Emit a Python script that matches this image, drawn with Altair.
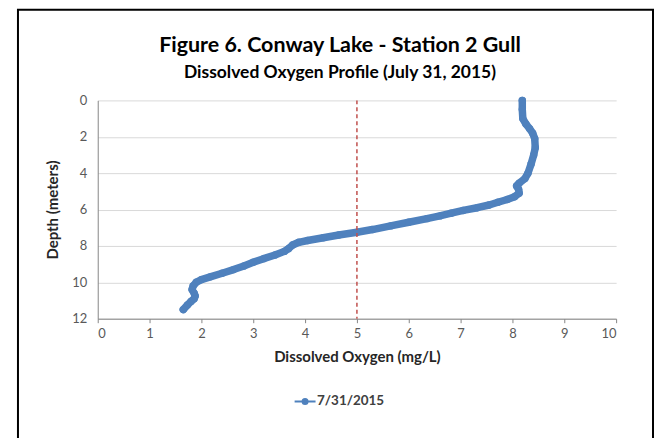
import altair as alt
import pandas as pd

# Profile readings (depth in meters, dissolved oxygen in mg/L)
depth = [0.0, 0.5, 1.0, 1.3, 1.55, 1.8, 2.1, 2.6, 3.0, 3.5, 4.0, 4.3, 4.55, 4.7,
         4.9, 5.1, 5.3, 5.45, 5.6, 5.75, 5.9, 6.05, 6.2, 6.35, 6.5, 6.7, 6.9,
         7.1, 7.25, 7.4, 7.55, 7.7, 7.8, 7.95, 8.15, 8.3, 8.5, 8.7, 8.9, 9.1,
         9.3, 9.5, 9.7, 9.85, 10.0, 10.2, 10.4, 10.6, 10.75, 10.9, 11.05,
         11.25, 11.5]
dissolved_oxygen = [8.19, 8.19, 8.20, 8.26, 8.33, 8.39, 8.43, 8.44, 8.41, 8.36,
                    8.30, 8.24, 8.13, 8.08, 8.12, 8.13, 8.04, 7.90, 7.72, 7.55,
                    7.32, 7.05, 6.82, 6.60, 6.35, 6.00, 5.65, 5.30, 5.00, 4.65,
                    4.35, 4.05, 3.88, 3.76, 3.68, 3.60, 3.42, 3.20, 3.00, 2.82,
                    2.62, 2.40, 2.17, 2.00, 1.90, 1.84, 1.82, 1.86, 1.88, 1.86,
                    1.80, 1.73, 1.65]
series_name = "7/31/2015"
threshold = [5]
title_text = "Figure 6. Conway Lake - Station 2 Gull"
subtitle_text = "Dissolved Oxygen Profile (July 31, 2015)"

x_ticks = list(range(0, 11))
y_ticks = [0, 2, 4, 6, 8, 10, 12]

df = pd.DataFrame({"depth": depth, "do": dissolved_oxygen,
                   "series": [series_name] * len(depth)})
df_thr = pd.DataFrame({"do": threshold})
df_one = pd.DataFrame({"a": [0]})

BLUE = "#4F81BD"
FONT = "Lato"

x_enc = alt.X("do:Q", scale=alt.Scale(domain=[0, 10], nice=False),
              axis=alt.Axis(values=x_ticks, title="Dissolved Oxygen (mg/L)",
                            grid=False, tickSize=4, tickColor="#868686",
                            domainColor="#868686", labelColor="#595959",
                            labelFontSize=13, titleFontSize=15,
                            titleFontWeight="bold", titleColor="#262626",
                            labelPadding=5, titlePadding=9))
y_enc = alt.Y("depth:Q", scale=alt.Scale(domain=[0, 12], reverse=True, nice=False),
              axis=alt.Axis(values=y_ticks, title="Depth (meters)", grid=True,
                            gridColor="#D9D9D9", ticks=False,
                            domainColor="#868686", labelColor="#595959",
                            labelFontSize=13, titleFontSize=15,
                            titleFontWeight="bold", titleColor="#262626",
                            labelPadding=11, titlePadding=11))

legend_symbol = "M-1.5,0H1.5M-0.36,0A0.36,0.36,0,1,1,0.36,0A0.36,0.36,0,1,1,-0.36,0Z"

line = alt.Chart(df).mark_line(
    strokeWidth=7.5, strokeCap="round", strokeJoin="round",
    point=alt.OverlayMarkDef(filled=True, size=55)
).encode(
    x=x_enc, y=y_enc,
    order=alt.Order("depth:Q"),
    color=alt.Color("series:N", scale=alt.Scale(range=[BLUE]),
                    legend=alt.Legend(title=None, orient="none",
                                      legendX=200, legendY=294,
                                      symbolType=legend_symbol,
                                      symbolSize=196, symbolStrokeWidth=2,
                                      symbolFillColor=BLUE,
                                      symbolStrokeColor=BLUE,
                                      labelFontSize=13.5, labelFontWeight="bold",
                                      labelColor="#404040", labelFont=FONT)),
)

rule = alt.Chart(df_thr).mark_rule(color="#C0504D", strokeWidth=1.5,
                                   strokeDash=[4, 3]).encode(x="do:Q")

frame = alt.Chart(df_one).mark_rect(fillOpacity=0, stroke="black",
                                    strokeWidth=2).encode(
    x=alt.value(-80), x2=alt.value(557), y=alt.value(-91), y2=alt.value(345))

title = alt.Chart(df_one).mark_text(
    text=title_text, font=FONT, fontSize=21.5, fontWeight="bold",
    color="black", align="center", baseline="middle"
).encode(x=alt.value(243), y=alt.value(-55))

subtitle = alt.Chart(df_one).mark_text(
    text=subtitle_text, font=FONT, fontSize=17.5, fontWeight="bold",
    color="black", align="center", baseline="middle"
).encode(x=alt.value(243), y=alt.value(-27))

chart = alt.layer(frame, title, subtitle, line, rule).properties(
    width=520, height=219,
    autosize=alt.AutoSizeParams(type="none"),
    padding={"left": 90, "top": 92, "right": 39, "bottom": 119},
).configure(font=FONT).configure_view(stroke=None)

chart.save("out.html", embed_options={"renderer": "svg", "actions": False})
